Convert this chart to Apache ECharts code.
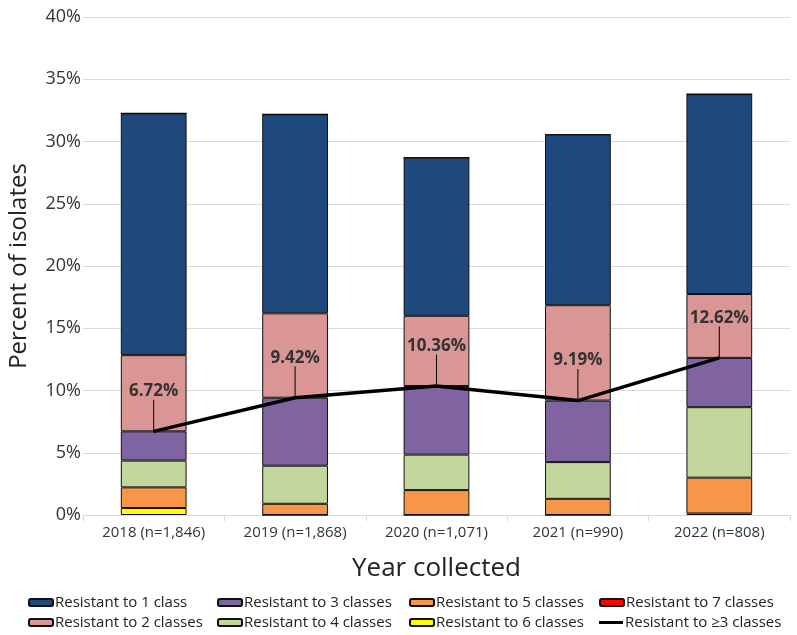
<!DOCTYPE html>
<html>
<head>
<meta charset="utf-8">
<script src="https://cdn.jsdelivr.net/npm/echarts@6/dist/echarts.min.js"></script>
<style>html,body{margin:0;padding:0;background:#fff}#c{width:797px;height:635px}</style>
</head>
<body>
<div id="c"></div>
<script>
const categories = ['2018 (n=1,846)', '2019 (n=1,868)', '2020 (n=1,071)', '2021 (n=990)', '2022 (n=808)'];
const res1 = [19.42, 15.98, 12.70, 13.70, 16.05];
const res2 = [6.12, 6.78, 5.64, 7.66, 5.13];
const res3 = [2.35, 5.46, 5.51, 4.94, 3.96];
const res4 = [2.15, 3.06, 2.85, 2.95, 5.66];
const res5 = [1.66, 0.90, 2.00, 1.30, 2.88];
const res6 = [0.56, 0.00, 0.00, 0.00, 0.12];
const res7 = [0.00, 0.00, 0.00, 0.00, 0.00];
const res3plus = [6.72, 9.42, 10.36, 9.19, 12.62];
const yTicks = [0, 5, 10, 15, 20, 25, 30, 35, 40];

const FONT = 'Open Sans';
const chart = echarts.init(document.getElementById('c'), null, {renderer: 'canvas'});

function barSeries(name, data, color) {
  return {
    name: name, type: 'bar', stack: 'total', data: data, barWidth: '46.5%',
    itemStyle: {color: color, borderColor: '#111', borderWidth: 1},
    emphasis: {disabled: true}
  };
}
function legendItem(left, top, name, extra) {
  return Object.assign({
    orient: 'horizontal', left: left, top: top, itemWidth: 24, itemHeight: 7, itemGap: 5,
    padding: 0, data: [name], selectedMode: false,
    textStyle: {fontFamily: FONT, fontSize: 15, color: '#222', padding: [0, 0, 0, -3]}
  }, extra || {});
}

chart.setOption({
  animation: false,
  textStyle: {fontFamily: FONT},
  grid: {left: 83, right: 7, top: 17, bottom: 120, containLabel: false, outerBoundsMode: 'none'},
  legend: [
    legendItem(28, 595, 'Resistant to 1 class'),
    legendItem(28, 615, 'Resistant to 2 classes'),
    legendItem(217, 595, 'Resistant to 3 classes'),
    legendItem(217, 615, 'Resistant to 4 classes'),
    legendItem(409, 595, 'Resistant to 5 classes'),
    legendItem(409, 615, 'Resistant to 6 classes'),
    legendItem(599, 595, 'Resistant to 7 classes'),
    legendItem(599, 615, 'Resistant to \u22653 classes', {icon: 'rect', itemHeight: 3})
  ],
  xAxis: {
    type: 'category', data: categories,
    name: 'Year collected', nameLocation: 'middle', nameGap: 41,
    nameTextStyle: {fontFamily: FONT, fontSize: 26, color: '#222'},
    axisLine: {lineStyle: {color: '#d9d9d9', width: 1}},
    axisTick: {show: true, length: 6, lineStyle: {color: '#d9d9d9'}},
    axisLabel: {fontFamily: FONT, fontSize: 15, color: '#333', margin: 10}
  },
  yAxis: {
    type: 'value', min: yTicks[0], max: yTicks[yTicks.length - 1], interval: 5,
    name: 'Percent of isolates', nameLocation: 'middle', nameGap: 52,
    nameTextStyle: {fontFamily: FONT, fontSize: 24, color: '#222'},
    axisLine: {show: false}, axisTick: {show: false},
    axisLabel: {fontFamily: FONT, fontSize: 18, color: '#333', margin: 2, formatter: v => v + '%'},
    splitLine: {lineStyle: {color: '#d9d9d9', width: 1}}
  },
  series: [
    barSeries('Resistant to 6 classes', res6, '#FFFF00'),
    barSeries('Resistant to 5 classes', res5, '#F79646'),
    barSeries('Resistant to 4 classes', res4, '#C3D69B'),
    barSeries('Resistant to 3 classes', res3, '#8064A2'),
    barSeries('Resistant to 2 classes', res2, '#D99694'),
    barSeries('Resistant to 1 class', res1, '#1F497D'),
    barSeries('Resistant to 7 classes', res7, '#FF0000'),
    {
      name: 'Resistant to \u22653 classes', type: 'line', data: res3plus,
      symbol: 'circle', symbolSize: 1, showSymbol: true,
      lineStyle: {color: '#000', width: 3.5}, itemStyle: {color: '#000'},
      z: 10,
      label: {show: true, position: 'top', distance: 2, formatter: p => p.value.toFixed(2) + '%',
        fontFamily: FONT, fontSize: 17, fontWeight: 'bold', color: '#333'},
      labelLayout: {dy: -29},
      labelLine: {show: true, lineStyle: {color: '#000', width: 1}},
      emphasis: {disabled: true}
    }
  ]
});
</script>
</body>
</html>
